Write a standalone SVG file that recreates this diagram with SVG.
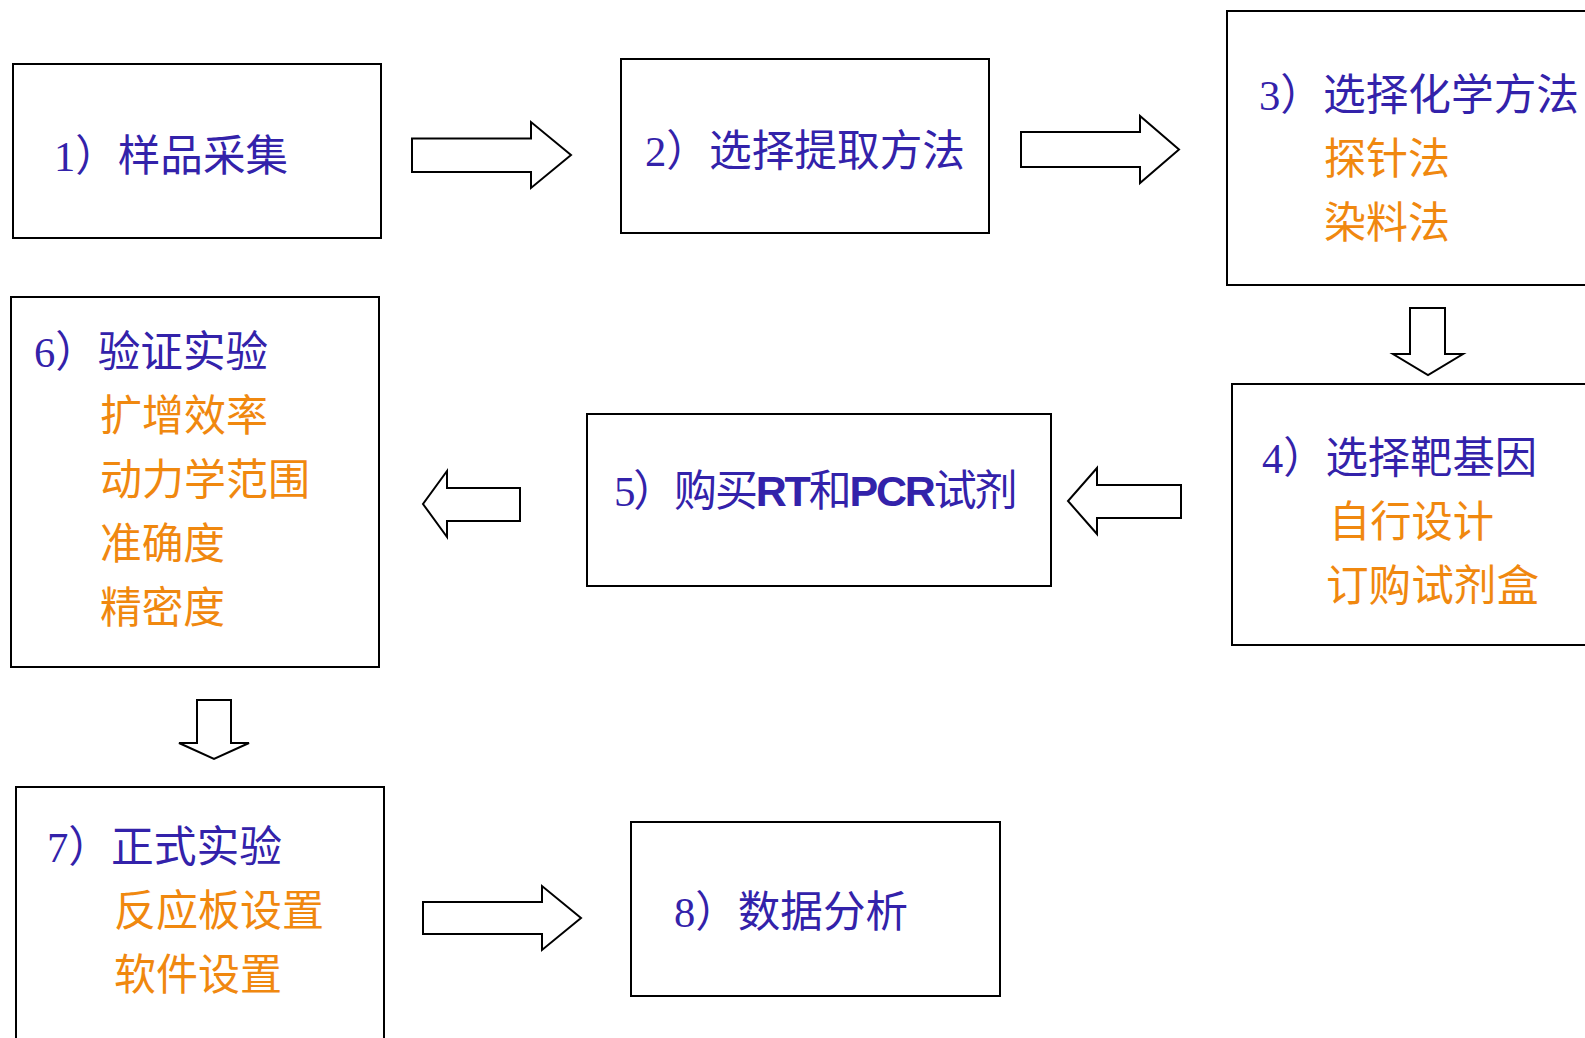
<svg xmlns="http://www.w3.org/2000/svg" width="1585" height="1038" viewBox="0 0 1585 1038">
<style>
.box{fill:#fff;stroke:#000;stroke-width:2}
.arr{fill:#fff;stroke:#000;stroke-width:2;stroke-linejoin:miter}
text{font-family:"Liberation Serif","Noto Sans CJK SC",serif;font-size:43px}
.t{fill:#3322AA}
.o{fill:#F0880F}
.b{font-family:"Liberation Sans",Arial,sans-serif;font-weight:bold}
</style>
<rect width="1585" height="1038" fill="#fff"/>
<g id="connectors">
<path class="arr" d="M412,138.5 H531 V122 L571,155 L531,188 V172 H412 Z"/>
<path class="arr" d="M1021,132 H1140 V116 L1179,149.5 L1140,183 V167 H1021 Z"/>
<path class="arr" d="M1410,308 H1445 V354 H1463 L1428,375 L1393,354 H1410 Z"/>
<path class="arr" d="M1181,485 H1097 V468 L1068,501 L1097,534 V518 H1181 Z"/>
<path class="arr" d="M520,488 H447 V471 L423,504 L447,537 V521 H520 Z"/>
<path class="arr" d="M197,700 H231 V743 H249 L214,759 L179,743 H197 Z"/>
<path class="arr" d="M423,902 H542 V886 L581,918 L542,950 V934 H423 Z"/>
</g>
<g id="node1">
<rect class="box" x="13" y="64" width="368" height="174"/>
<text class="t" x="54" y="171" textLength="234" lengthAdjust="spacingAndGlyphs">1）样品采集</text>
</g>
<g id="node2">
<rect class="box" x="621" y="59" width="368" height="174"/>
<text class="t" x="645" y="166" textLength="320" lengthAdjust="spacingAndGlyphs">2）选择提取方法</text>
</g>
<g id="node3">
<rect class="box" x="1227" y="11" width="370" height="274"/>
<text class="t" x="1259" y="110" textLength="320" lengthAdjust="spacingAndGlyphs">3）选择化学方法</text>
<text class="o" x="1324" y="174" textLength="126" lengthAdjust="spacingAndGlyphs">探针法</text>
<text class="o" x="1324" y="238" textLength="126" lengthAdjust="spacingAndGlyphs">染料法</text>
</g>
<g id="node4">
<rect class="box" x="1232" y="384" width="370" height="261"/>
<text class="t" x="1262" y="473" textLength="275" lengthAdjust="spacingAndGlyphs">4）选择靶基因</text>
<text class="o" x="1329" y="537" textLength="165" lengthAdjust="spacingAndGlyphs">自行设计</text>
<text class="o" x="1326" y="601" textLength="213" lengthAdjust="spacingAndGlyphs">订购试剂盒</text>
</g>
<g id="node5">
<rect class="box" x="587" y="414" width="464" height="172"/>
<text class="t" x="614" y="506" letter-spacing="-2.2">5）购买<tspan class="b">RT</tspan>和<tspan class="b">PCR</tspan>试剂</text>
</g>
<g id="node6">
<rect class="box" x="11" y="297" width="368" height="370"/>
<text class="t" x="34" y="367" textLength="234" lengthAdjust="spacingAndGlyphs">6）验证实验</text>
<text class="o" x="100" y="431" textLength="168" lengthAdjust="spacingAndGlyphs">扩增效率</text>
<text class="o" x="100" y="495" textLength="210" lengthAdjust="spacingAndGlyphs">动力学范围</text>
<text class="o" x="100" y="559" textLength="125" lengthAdjust="spacingAndGlyphs">准确度</text>
<text class="o" x="100" y="623" textLength="125" lengthAdjust="spacingAndGlyphs">精密度</text>
</g>
<g id="node7">
<rect class="box" x="16" y="787" width="368" height="270"/>
<text class="t" x="47" y="862" textLength="235" lengthAdjust="spacingAndGlyphs">7）正式实验</text>
<text class="o" x="114" y="926" textLength="210" lengthAdjust="spacingAndGlyphs">反应板设置</text>
<text class="o" x="114" y="990" textLength="168" lengthAdjust="spacingAndGlyphs">软件设置</text>
</g>
<g id="node8">
<rect class="box" x="631" y="822" width="369" height="174"/>
<text class="t" x="674" y="927" textLength="234" lengthAdjust="spacingAndGlyphs">8）数据分析</text>
</g>
</svg>
